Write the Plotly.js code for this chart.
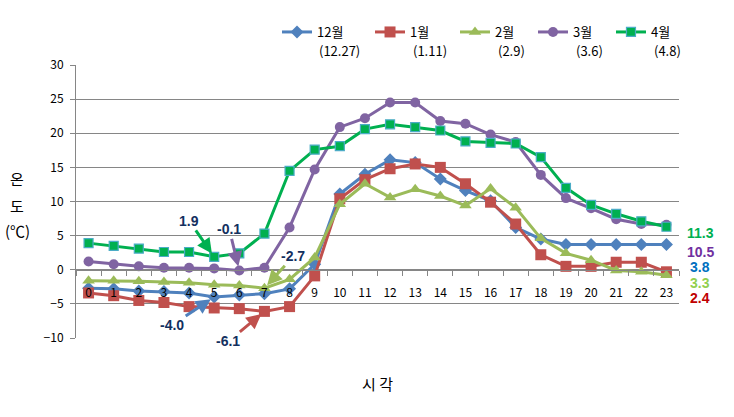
<!DOCTYPE html>
<html>
<head>
<meta charset="utf-8">
<script src="https://cdn.plot.ly/plotly-3.0.1.min.js"></script>
<style>html,body{margin:0;padding:0;background:#fff;}#chart{width:734px;height:417px;}</style>
</head>
<body>
<div id="chart"></div>
<script>
// ---- data ----
const hours = ["0","1","2","3","4","5","6","7","8","9","10","11","12","13","14","15","16","17","18","19","20","21","22","23"];
const seriesNames = ["12월", "1월", "2월", "3월", "4월"];
const seriesDates = ["(12.27)", "(1.11)", "(2.9)", "(3.6)", "(4.8)"];
const dec = [-2.7,-2.8,-3.1,-3.2,-3.4,-4.0,-3.7,-3.5,-2.8,0.8,11.1,14.0,16.1,15.7,13.3,11.6,10.1,6.2,4.5,3.7,3.7,3.7,3.7,3.7];
const jan = [-3.4,-3.8,-4.5,-4.8,-5.4,-5.6,-5.7,-6.1,-5.4,-0.9,10.4,13.2,14.8,15.5,15.0,12.6,9.9,6.7,2.2,0.5,0.5,1.1,1.1,-0.3];
const feb = [-1.6,-1.6,-1.7,-1.8,-1.9,-2.2,-2.3,-2.7,-1.4,1.8,9.6,12.6,10.6,11.8,10.8,9.4,11.9,9.1,4.6,2.4,1.4,-0.1,-0.3,-0.8];
const mar = [1.2,0.8,0.5,0.3,0.3,0.2,-0.1,0.3,6.2,14.7,20.9,22.2,24.5,24.5,21.8,21.4,19.8,18.7,13.9,10.5,9.0,7.4,6.7,6.6];
const apr = [3.9,3.5,3.1,2.6,2.6,1.9,2.4,5.3,14.5,17.6,18.1,20.6,21.3,20.9,20.4,18.8,18.6,18.5,16.5,12.0,9.5,8.2,7.1,6.3];
const sideLabels = ["11.3","10.5","3.8","3.3","2.4"];
const calloutText = ["1.9","-0.1","-2.7","-4.0","-6.1"];

const KR = '"Noto Sans CJK KR", "Malgun Gothic", sans-serif';
const AR = '"Liberation Sans", Arial, sans-serif';

const cols = ["#4F81BD","#C0504D","#9BBB59","#8064A2","#00B050"];
const syms = ["diamond","square","triangle-up","circle","square"];
const msz = [10,11,11,10,9];
const allData = [dec, jan, feb, mar, apr];
const legendIds = ["legend","legend2","legend3","legend4","legend5"];
const legendX = [0.3333, 0.4876, 0.6285, 0.7579, 0.8872];

const traces = allData.map((d,k)=>({
  type:'scatter', mode:'lines+markers', x:hours, y:d, name:seriesNames[k], legend:legendIds[k],
  line:{color:cols[k], width:3},
  marker:{symbol:syms[k], size:msz[k], color:cols[k],
          line:{color: k===4 ? '#4BACC6' : cols[k], width: k===4 ? 1.2 : 0}},
  cliponaxis:false
}));

const navy = '#13305F';
function callout(text, xi, yv, ax, ay, col){
  return {x:hours[xi], y:yv, xref:'x', yref:'y', text:'<b>'+text+'</b>', showarrow:true,
    arrowhead:2, arrowsize:1, arrowwidth:3, arrowcolor:col, ax:ax, ay:ay, standoff:4,
    font:{family:AR, size:14, color:navy}};
}
const ann = [
  callout(calloutText[0], 5, apr[5], -25, -36, "#00B050"),
  callout(calloutText[1], 6, mar[6], -10, -41, "#8064A2"),
  callout(calloutText[2], 7, feb[7], 29, -32, "#9BBB59"),
  callout(calloutText[3], 5, dec[5], -42, 28, "#4F81BD"),
  callout(calloutText[4], 7, jan[7], -36, 30, "#C0504D")
];
const sideCols = ["#00B050","#7030A0","#0070C0","#92D050","#C00000"];
const sideY = [5.37, 2.6, 0.4, -1.9, -4.2];
sideLabels.forEach((t,i)=>ann.push({xref:'paper', yref:'y', x:1.035, y:sideY[i], xanchor:'center', yanchor:'middle',
  text:'<b>'+t+'</b>', showarrow:false, font:{family:AR, size:14, color:sideCols[i]}}));
// legend sub-labels (dates)
const dateLeftPx = [317, 410.5, 495.5, 574, 651.5];
seriesDates.forEach((t,i)=>ann.push({xref:'paper', yref:'paper', x:(dateLeftPx[i]-76)/603, y:(338-51)/273,
  xanchor:'left', yanchor:'middle', text:t, showarrow:false, font:{family:KR, size:13, color:'#000'}}));
// axis titles
[["온",178],["도",205],["(℃)",230]].forEach(([t,py])=>ann.push({xref:'paper', yref:'paper', x:(17-76)/603, y:(338-py)/273,
  xanchor:'center', yanchor:'middle', text:t, showarrow:false, font:{family:KR, size:15, color:'#000'}}));
ann.push({xref:'paper', yref:'paper', x:0.5, y:(338-383)/273, xanchor:'center', yanchor:'middle', text:'시 각',
  showarrow:false, font:{family:KR, size:15, color:'#000'}});

const layout = {
  width:734, height:417,
  margin:{l:76, r:55, t:65, b:79},
  paper_bgcolor:'#fff', plot_bgcolor:'#fff',
  font:{family:KR, size:12, color:'#000'},
  showlegend:true,
  xaxis:{type:'category', anchor:'free', position:0.25, range:[-0.5,23.5], tickson:'boundaries',
    showline:true, linecolor:'#868686', linewidth:1, ticks:'outside', ticklen:5, tickcolor:'#868686',
    showgrid:false, zeroline:false, tickfont:{family:KR, size:12, color:'#000'}, ticklabelstandoff:12,
    fixedrange:true},
  yaxis:{range:[-10,30], tick0:-10, dtick:5, showgrid:true, gridcolor:'#868686', gridwidth:1,
    showline:true, linecolor:'#868686', ticks:'outside', ticklen:5, tickcolor:'#868686', zeroline:false,
    tickfont:{family:KR, size:12, color:'#000'}, ticklabelstandoff:4, fixedrange:true},
  annotations:ann
};
legendIds.forEach((id,k)=>{
  layout[id] = {orientation:'h', x:legendX[k], xanchor:'left', y:(338-17)/273, yanchor:'top',
    font:{family:KR, size:13, color:'#000'}, itemwidth:30, bgcolor:'rgba(0,0,0,0)'};
});
Plotly.newPlot('chart', traces, layout, {displayModeBar:false, staticPlot:true});
</script>
</body>
</html>
